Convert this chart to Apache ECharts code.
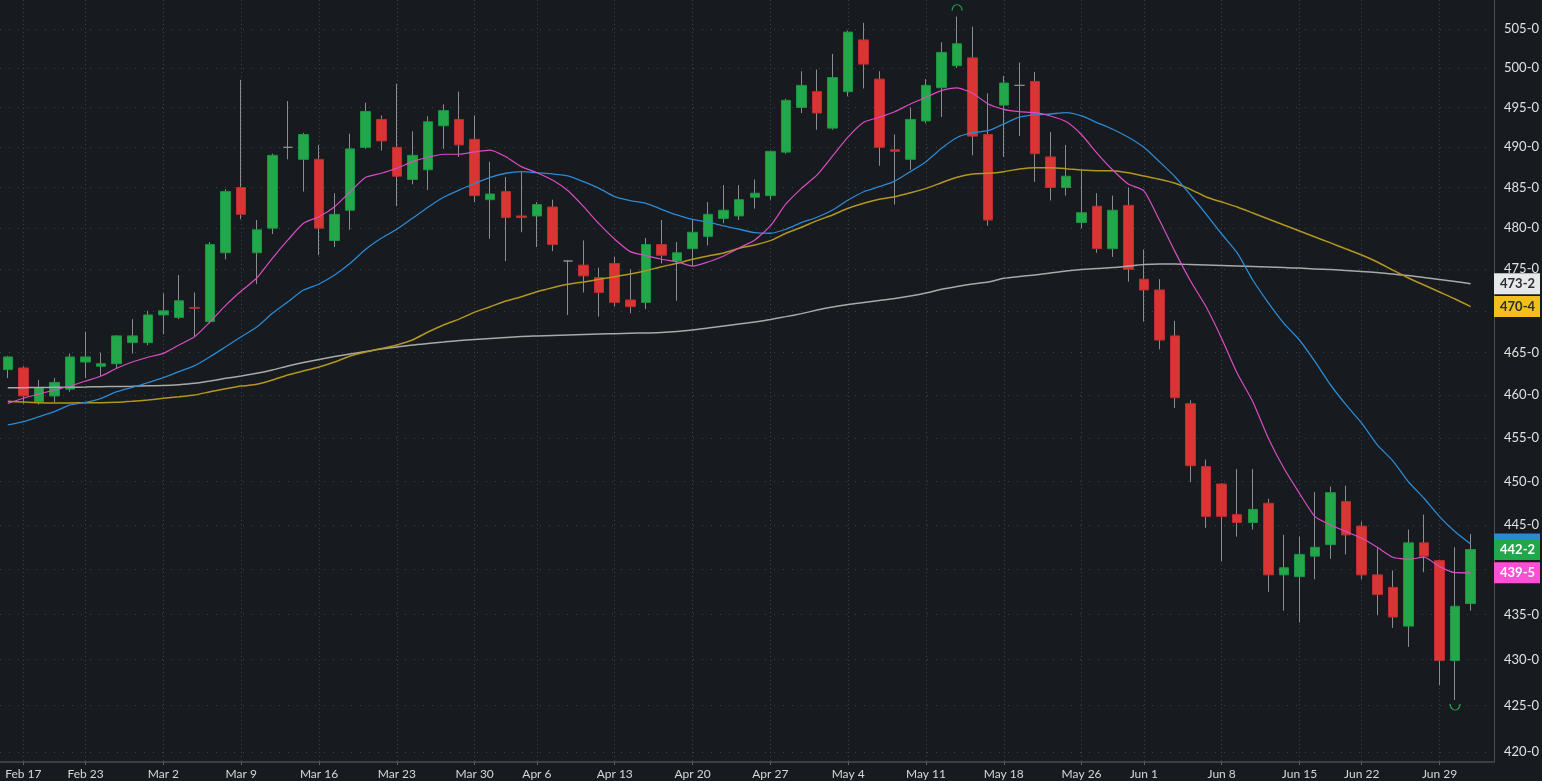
<!DOCTYPE html>
<html>
<head>
<meta charset="utf-8">
<title>Candles</title>
<script src="https://cdn.jsdelivr.net/npm/echarts@6/dist/echarts.min.js"></script>
<style>
  html, body { margin: 0; padding: 0; background: #171a1e; }
  #main { width: 1542px; height: 781px; }
</style>
</head>
<body>
<div id="main"></div>
<script>
// 交易日 (最后一个为空白占位)
var dates = [
  "Feb 13", "Feb 17", "Feb 18", "Feb 19", "Feb 20",
  "Feb 23", "Feb 24", "Feb 25", "Feb 26", "Feb 27",
  "Mar 2", "Mar 3", "Mar 4", "Mar 5", "Mar 6",
  "Mar 9", "Mar 10", "Mar 11", "Mar 12", "Mar 13",
  "Mar 16", "Mar 17", "Mar 18", "Mar 19", "Mar 20",
  "Mar 23", "Mar 24", "Mar 25", "Mar 26", "Mar 27",
  "Mar 30", "Mar 31", "Apr 1", "Apr 2",
  "Apr 6", "Apr 7", "Apr 8", "Apr 9", "Apr 10",
  "Apr 13", "Apr 14", "Apr 15", "Apr 16", "Apr 17",
  "Apr 20", "Apr 21", "Apr 22", "Apr 23", "Apr 24",
  "Apr 27", "Apr 28", "Apr 29", "Apr 30", "May 1",
  "May 4", "May 5", "May 6", "May 7", "May 8",
  "May 11", "May 12", "May 13", "May 14", "May 15",
  "May 18", "May 19", "May 20", "May 21", "May 22",
  "May 26", "May 27", "May 28", "May 29",
  "Jun 1", "Jun 2", "Jun 3", "Jun 4", "Jun 5",
  "Jun 8", "Jun 9", "Jun 10", "Jun 11", "Jun 12",
  "Jun 15", "Jun 16", "Jun 17", "Jun 18",
  "Jun 22", "Jun 23", "Jun 24", "Jun 25", "Jun 26",
  "Jun 29", "Jun 30", "Jul 1", "Jul 2"
];

// x轴显示的周标签
var weekLabels = ["Feb 17", "Feb 23", "Mar 2", "Mar 9", "Mar 16", "Mar 23", "Mar 30",
  "Apr 6", "Apr 13", "Apr 20", "Apr 27", "May 4", "May 11", "May 18", "May 26",
  "Jun 1", "Jun 8", "Jun 15", "Jun 22", "Jun 29"];

// y轴刻度
var yTicks = [420, 425, 430, 435, 440, 445, 450, 455, 460, 465, 470, 475,
  480, 485, 490, 495, 500, 505];

var opens = [463.0, 463.2, 459.2, 459.9, 460.7, 463.9, 463.4, 463.7, 466.2, 466.2,
  469.5, 469.2, 470.4, 468.7, 477.0, 485.0, 477.0, 480.0, 490.0, 488.5,
  488.5, 478.5, 482.2, 490.0, 493.5, 490.0, 486.0, 487.2, 492.7, 493.5,
  491.0, 483.5, 484.5, 481.5, 481.5, 482.6, 476.0, 475.5, 474.0, 475.7,
  471.3, 471.0, 478.0, 476.0, 477.5, 479.0, 481.2, 481.5, 483.8, 484.0,
  489.4, 495.0, 497.0, 492.4, 497.0, 503.6, 498.6, 489.7, 488.5, 493.3,
  497.5, 500.3, 501.3, 491.6, 495.3, 497.8, 498.3, 488.8, 485.0, 480.7,
  482.7, 477.5, 482.8, 473.8, 472.5, 467.0, 459.0, 451.7, 449.7, 446.2,
  445.3, 447.5, 439.4, 439.2, 441.5, 442.8, 447.7, 444.9, 439.4, 438.0,
  433.7, 443.0, 441.0, 429.9, 436.2];
var closes = [464.5, 459.9, 460.9, 461.5, 464.5, 464.5, 463.7, 467.0, 467.0, 469.5,
  470.0, 471.2, 470.3, 478.0, 484.5, 481.7, 479.8, 489.0, 490.0, 491.6,
  480.0, 481.7, 489.8, 494.5, 490.8, 486.4, 489.0, 493.2, 494.6, 490.3,
  484.0, 484.2, 481.3, 481.3, 482.9, 478.0, 476.0, 474.2, 472.2, 471.0,
  470.5, 478.0, 476.7, 477.0, 479.5, 481.7, 482.2, 483.5, 484.3, 489.5,
  495.9, 497.8, 494.3, 498.8, 504.6, 500.5, 490.0, 489.5, 493.5, 497.8,
  502.0, 503.1, 491.4, 481.0, 498.1, 497.8, 489.2, 485.0, 486.4, 481.9,
  477.5, 482.2, 475.0, 472.5, 466.5, 459.7, 451.8, 446.0, 446.0, 445.3,
  446.8, 439.4, 440.2, 441.7, 442.5, 448.7, 443.9, 439.4, 437.2, 434.7,
  443.0, 441.5, 429.9, 435.9, 442.25];
var lows = [462.0, 459.0, 458.9, 459.2, 460.4, 462.0, 462.2, 463.2, 464.9, 465.9,
  467.2, 469.0, 466.9, 468.5, 476.2, 481.1, 473.2, 479.3, 488.5, 484.5,
  476.7, 477.7, 479.8, 489.8, 489.6, 482.7, 485.4, 484.7, 489.8, 488.8,
  483.2, 478.7, 476.0, 479.5, 477.7, 477.2, 469.5, 472.2, 469.3, 470.5,
  469.7, 470.2, 475.7, 471.2, 475.4, 477.9, 480.6, 481.0, 482.4, 483.5,
  489.2, 494.3, 492.2, 492.2, 496.4, 497.4, 487.7, 482.9, 487.2, 493.0,
  493.8, 500.0, 489.0, 480.3, 488.8, 491.4, 485.7, 483.4, 484.0, 480.0,
  477.0, 476.5, 473.5, 468.7, 465.4, 458.5, 449.9, 444.7, 440.9, 443.7,
  444.5, 437.5, 435.4, 434.1, 438.9, 441.2, 441.7, 438.9, 434.9, 433.5,
  431.4, 439.7, 427.2, 425.6, 435.4];
var highs = [464.6, 463.4, 461.8, 462.0, 464.9, 467.5, 465.0, 467.1, 469.0, 470.0,
  472.1, 474.3, 472.2, 478.3, 484.8, 498.5, 481.0, 489.2, 495.8, 491.8,
  490.3, 484.3, 491.7, 495.6, 494.0, 498.0, 492.0, 493.9, 495.4, 497.0,
  494.0, 488.2, 486.3, 486.9, 483.2, 483.5, 476.1, 478.5, 475.2, 476.5,
  475.0, 478.8, 481.0, 478.3, 481.0, 483.2, 485.3, 485.3, 486.0, 489.6,
  496.1, 499.6, 499.8, 501.8, 504.8, 505.8, 499.6, 491.6, 495.0, 498.6,
  503.3, 506.6, 505.3, 496.8, 499.0, 500.7, 499.5, 491.9, 490.3, 487.1,
  484.3, 484.0, 485.0, 477.4, 473.8, 468.8, 459.4, 452.5, 449.8, 451.4,
  451.4, 448.0, 443.9, 443.7, 448.8, 449.4, 449.5, 445.4, 442.4, 439.9,
  444.5, 446.2, 441.1, 442.5, 444.0];

// 均线
var maFast = [459.04, 459.63, 460.13, 460.6, 461.07, 461.66, 462.25, 463.16, 463.9, 464.46,
  464.93, 465.92, 466.9, 468.69, 470.65, 472.37, 473.94, 476.33, 478.56, 480.6,
  481.41, 482.64, 484.48, 486.27, 486.77, 487.39, 488.21, 488.76, 489.13, 489.13,
  489.42, 489.66, 488.83, 487.59, 486.84, 485.93, 484.6, 482.64, 480.52, 478.65,
  477.14, 476.65, 476.21, 475.91, 475.39, 475.88, 476.6, 477.59, 478.56, 480.27,
  482.97, 484.9, 486.56, 488.92, 491.3, 493.14, 493.77, 494.47, 495.44, 496.29,
  497.13, 497.47, 496.8, 495.44, 494.77, 494.47, 494.35, 493.93, 493.22, 491.57,
  489.25, 487.17, 485.43, 484.6, 481.0, 477.14, 473.58, 470.48, 466.7, 462.57,
  459.23, 454.97, 451.5, 448.63, 445.97, 445.02, 444.27, 443.52, 442.5, 441.38,
  441.15, 441.38, 440.32, 439.64, 439.625];
var maMid = [456.52, 456.9, 457.48, 458.07, 458.85, 459.16, 459.63, 460.4, 460.92, 461.46,
  462.05, 462.76, 463.47, 464.53, 465.71, 466.9, 468.06, 469.69, 471.08, 472.49,
  473.22, 474.3, 475.72, 477.43, 478.77, 479.87, 481.21, 482.57, 483.8, 484.69,
  485.5, 486.27, 486.77, 486.97, 486.84, 486.68, 486.43, 485.72, 484.9, 483.87,
  483.38, 483.06, 482.32, 481.62, 481.07, 480.76, 480.27, 479.87, 479.45, 479.38,
  479.87, 480.68, 481.34, 482.23, 483.46, 484.48, 485.1, 485.8, 486.97, 488.21,
  489.87, 491.23, 491.83, 492.08, 492.92, 493.77, 494.06, 494.18, 494.35, 493.93,
  493.09, 492.26, 491.26, 490.0, 488.21, 486.34, 484.08, 481.73, 479.29, 476.98,
  473.7, 470.96, 468.5, 466.51, 463.94, 461.19, 458.85, 456.72, 454.2, 452.36,
  449.95, 448.06, 445.97, 444.26, 442.88];
var maSlow = [459.28, 459.2, 459.11, 459.08, 459.08, 459.11, 459.11, 459.16, 459.28, 459.43,
  459.63, 459.81, 460.01, 460.4, 460.75, 461.07, 461.27, 461.78, 462.37, 462.84,
  463.31, 463.9, 464.61, 465.08, 465.5, 465.92, 466.51, 467.46, 468.3, 469.0,
  469.84, 470.48, 471.17, 471.69, 472.29, 472.77, 473.18, 473.46, 473.78, 474.1,
  474.42, 474.82, 475.3, 475.72, 476.21, 476.61, 476.98, 477.55, 477.95, 478.48,
  479.38, 480.11, 480.92, 481.62, 482.44, 483.06, 483.55, 483.87, 484.36, 484.9,
  485.6, 486.27, 486.68, 486.77, 486.97, 487.3, 487.46, 487.46, 487.34, 487.17,
  487.09, 487.09, 486.84, 486.43, 486.02, 485.53, 484.78, 483.83, 483.22, 482.6,
  481.87, 481.13, 480.39, 479.66, 478.93, 478.2, 477.46, 476.73, 475.88, 474.9,
  473.94, 473.1, 472.25, 471.41, 470.5];
var maLong = [460.87, 460.88, 460.9, 460.92, 460.93, 460.95, 460.99, 461.01, 461.04, 461.1,
  461.13, 461.23, 461.39, 461.66, 461.98, 462.25, 462.57, 462.96, 463.43, 463.84,
  464.2, 464.55, 464.85, 465.14, 465.44, 465.68, 465.92, 466.1, 466.27, 466.45,
  466.57, 466.69, 466.81, 466.93, 466.99, 467.05, 467.11, 467.17, 467.23, 467.26,
  467.31, 467.35, 467.4, 467.52, 467.7, 467.94, 468.18, 468.42, 468.66, 468.96,
  469.3, 469.66, 470.08, 470.45, 470.75, 470.99, 471.23, 471.47, 471.77, 472.13,
  472.58, 472.92, 473.22, 473.46, 473.9, 474.12, 474.3, 474.54, 474.78, 474.96,
  475.09, 475.21, 475.39, 475.57, 475.64, 475.64, 475.57, 475.51, 475.45, 475.39,
  475.33, 475.27, 475.21, 475.15, 475.02, 474.96, 474.84, 474.72, 474.6, 474.42,
  474.24, 474.0, 473.76, 473.52, 473.25];

var UP = "#22a84a", UP_BORDER = "#1d9340";
var DOWN = "#d93535", DOWN_BORDER = "#bb2e2e";
var WICK = "#8a8d90";

// 价格格式: 整数-八分之几
function toEighths(v) {
  var w = Math.floor(v);
  var e = Math.round((v - w) * 8);
  if (e === 8) { w += 1; e = 0; }
  return w + "-" + e;
}

function isWeekStart(index, value) {
  return weekLabels.indexOf(value) >= 0;
}

// 全部OHLC (影线) 与只有实体的数据
var wickData = [];
var bodyData = [];
for (var i = 0; i < opens.length; i++) {
  wickData.push([opens[i], closes[i], lows[i], highs[i]]);
  var item = {
    value: [opens[i], closes[i], Math.min(opens[i], closes[i]), Math.max(opens[i], closes[i])]
  };
  if (opens[i] === closes[i]) {
    item.itemStyle = { color: WICK, color0: WICK, borderColor: WICK, borderColor0: WICK };
  }
  bodyData.push(item);
}

var hiIdx = 0, loIdx = 0;
for (var j = 0; j < highs.length; j++) {
  if (highs[j] > highs[hiIdx]) hiIdx = j;
  if (lows[j] < lows[loIdx]) loIdx = j;
}

// 右侧价格标签 (用透明的标线来放)
function endLabel(value, bg, fg) {
  return {
    symbol: "none",
    silent: true,
    animation: false,
    lineStyle: { color: "rgba(0,0,0,0)", width: 1, type: "solid" },
    emphasis: { disabled: true },
    label: {
      show: true,
      position: "end",
      distance: 0,
      formatter: toEighths(value),
      backgroundColor: bg,
      color: fg,
      padding: [3, 6, 3, 6],
      width: 34,
      fontSize: 13,
      lineHeight: 15,
      fontFamily: "Lato",
      fontWeight: "bold"
    },
    data: [{ yAxis: value }]
  };
}

function maSeries(name, data, color, width, bg, fg) {
  return {
    name: name,
    type: "line",
    data: data,
    showSymbol: false,
    smooth: 0.2,
    silent: true,
    lineStyle: { color: color, width: width },
    markLine: endLabel(data[data.length - 1], bg, fg)
  };
}

var chart = echarts.init(document.getElementById("main"), null, { width: 1542, height: 781 });

var option = {
  backgroundColor: "#171a1e",
  animation: false,
  grid: { left: 0, right: 46, top: 0, bottom: 19 },
  xAxis: {
    type: "category",
    data: dates,
    boundaryGap: true,
    axisLine: { show: true, lineStyle: { color: "#3a4046", width: 2 } },
    axisTick: {
      show: true,
      alignWithLabel: true,
      interval: isWeekStart,
      length: 3,
      lineStyle: { color: "#5b6168" }
    },
    axisLabel: {
      interval: isWeekStart,
      color: "#d6d6d6",
      fontFamily: "Lato",
      fontSize: 12,
      margin: 6
    },
    splitLine: {
      show: true,
      alignWithLabel: true,
      interval: isWeekStart,
      lineStyle: { color: "#3c4249", type: [1, 3] }
    }
  },
  yAxis: {
    type: "log",
    logBase: 10,
    position: "right",
    min: 418.93,
    max: 508.75,
    axisLine: { show: true, lineStyle: { color: "#4a5058" } },
    axisTick: { show: false, customValues: yTicks },
    axisLabel: {
      customValues: yTicks,
      formatter: function (v) { return toEighths(v); },
      color: "#e2e2e2",
      fontFamily: "Lato",
      fontSize: 13,
      margin: 10
    },
    splitLine: {
      show: true,
      lineStyle: { color: "#3c4249", type: [1, 8] }
    }
  },
  series: [
    maSeries("长期", maLong, "#a9a9a9", 1.5, "#e6e8ea", "#2a2d31"),
    maSeries("中长期", maSlow, "#b3961f", 1.5, "#f2c01e", "#2a2d31"),
    // 中期标签被收盘价标签盖住, 只露出一条蓝边
    maSeries("中期", maMid, "#2b8ad3", 1.3, "#2b8ad3", "#2b8ad3"),
    maSeries("短期", maFast, "#d94dc3", 1.2, "#ff4fd6", "#ffffff"),
    {
      name: "影线",
      type: "candlestick",
      data: wickData,
      barWidth: 1,
      silent: true,
      itemStyle: { color: WICK, color0: WICK, borderColor: WICK, borderColor0: WICK, borderWidth: 1 },
      markPoint: {
        silent: true,
        animation: false,
        label: { show: false },
        itemStyle: { color: "transparent", borderColor: "#22a84a", borderWidth: 1 },
        data: [
          { coord: [dates[hiIdx], highs[hiIdx]], symbol: "path://M0,10 A10,10 0 0 1 20,10", symbolSize: [10, 6], symbolOffset: [0, -9] },
          { coord: [dates[loIdx], lows[loIdx]], symbol: "path://M0,0 A10,10 0 0 0 20,0", symbolSize: [10, 6], symbolOffset: [0, 7] }
        ]
      }
    },
    {
      name: "K线",
      type: "candlestick",
      data: bodyData,
      barWidth: 10,
      silent: true,
      itemStyle: {
        color: UP,
        color0: DOWN,
        borderColor: UP_BORDER,
        borderColor0: DOWN_BORDER,
        borderWidth: 1
      },
      markLine: endLabel(closes[closes.length - 1], "#22a84a", "#ffffff")
    }
  ]
};

chart.setOption(option);
</script>
</body>
</html>
